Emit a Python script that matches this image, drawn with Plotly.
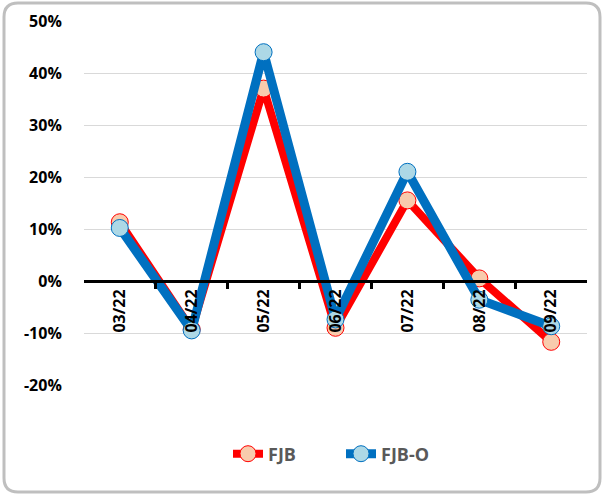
import plotly.graph_objects as go

categories = ["03/22", "04/22", "05/22", "06/22", "07/22", "08/22", "09/22"]
fjb = [11.3, -9.3, 37.0, -9.0, 15.5, 0.5, -11.7]
fjb_o = [10.2, -9.5, 44.0, -7.4, 21.0, -3.6, -8.7]
y_ticks = [-20, -10, 0, 10, 20, 30, 40, 50]
y_tick_text = [f"{v}%" for v in y_ticks]

W, H = 603, 495
ML, MR, MT, MB = 84, 16, 21, 110
PW, PH = W - ML - MR, H - MT - MB
YMIN, YMAX = -20, 50


def px(x):
    return (x - ML) / PW


def py(y):
    return (H - MB - y) / PH


fig = go.Figure()
fig.add_trace(go.Scatter(
    x=categories, y=fjb, name="FJB", mode="lines+markers",
    line=dict(color="#FF0000", width=8),
    marker=dict(size=17, color="#F8CBAD", line=dict(color="#FF0000", width=1)),
))
fig.add_trace(go.Scatter(
    x=categories, y=fjb_o, name="FJB-O", mode="lines+markers",
    line=dict(color="#0070C0", width=9),
    marker=dict(size=17, color="#ADD8E6", line=dict(color="#0070C0", width=1)),
))

# rounded frame
x0, y0, x1, y1, r = 4, 3, 600, 492, 14
path = (
    f"M {px(x0 + r)} {py(y0)} L {px(x1 - r)} {py(y0)} "
    f"Q {px(x1)} {py(y0)} {px(x1)} {py(y0 + r)} "
    f"L {px(x1)} {py(y1 - r)} Q {px(x1)} {py(y1)} {px(x1 - r)} {py(y1)} "
    f"L {px(x0 + r)} {py(y1)} Q {px(x0)} {py(y1)} {px(x0)} {py(y1 - r)} "
    f"L {px(x0)} {py(y0 + r)} Q {px(x0)} {py(y0)} {px(x0 + r)} {py(y0)} Z"
)
fig.add_shape(type="path", path=path, xref="paper", yref="paper",
              line=dict(color="#BFBFBF", width=3), layer="above")

fig.update_layout(
    width=W, height=H,
    margin=dict(l=ML, r=MR, t=MT, b=MB, autoexpand=False),
    paper_bgcolor="white", plot_bgcolor="white",
    font=dict(family="Open Sans", size=16, color="black"),
    showlegend=True,
    legend=dict(orientation="h", x=px(228), xanchor="left", y=py(454), yanchor="middle",
                font=dict(size=18, color="#595959", family="Open Sans", weight="bold"),
                itemwidth=30, itemsizing="trace",
                entrywidth=68, entrywidthmode="pixels"),
    xaxis=dict(
        type="category", anchor="free", position=(0 - YMIN) / (YMAX - YMIN),
        showline=True, linecolor="black", linewidth=3,
        ticks="outside", tickson="boundaries", ticklen=6, tickwidth=3, tickcolor="black",
        tickangle=-90, showgrid=False, zeroline=False, automargin=False,
        tickfont=dict(size=16, family="Open Sans", color="black", weight="bold"),
    ),
    yaxis=dict(
        range=[YMIN, YMAX], tickmode="array", tickvals=y_ticks, ticktext=y_tick_text,
        showgrid=True, gridcolor="#D9D9D9", gridwidth=1,
        zeroline=False, showline=False, automargin=False,
        ticks="outside", ticklen=18, tickcolor="rgba(0,0,0,0)",
        tickfont=dict(size=16, family="Open Sans", color="black", weight="bold"),
    ),
)
fig.write_html("out.html", config={"displayModeBar": False},
               post_script="document.body.style.margin='0';")
